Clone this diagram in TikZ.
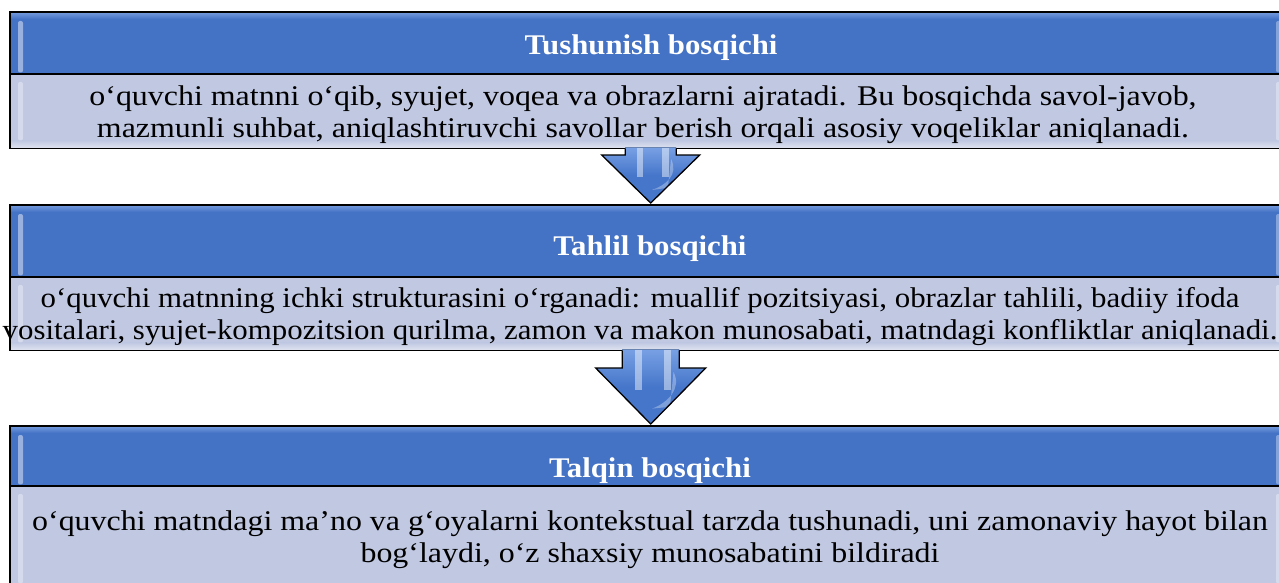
\documentclass[tikz,border=0pt]{standalone}
\usepackage{fontspec}
\setmainfont{Liberation Serif}
\newfontfamily\bodyfont{Liberation Serif}[FakeStretch=1.12]
\newfontfamily\bodyfontn{Liberation Serif}[FakeStretch=1.083]
\newfontfamily\headfont{Liberation Serif}[FakeStretch=1.08]
\usetikzlibrary{calc}
\definecolor{hdr}{RGB}{68,114,196}
\definecolor{hdrlt}{RGB}{110,150,218}
\definecolor{bdy}{RGB}{192,200,226}
\definecolor{arw}{RGB}{70,118,202}
\definecolor{arwlt}{RGB}{120,160,228}
\tikzset{
  hdrbox/.style={draw=black, line width=1.4pt, fill=hdr, inner sep=0pt, anchor=north west, minimum width=1280pt},
  bdybox/.style={draw=black, line width=1.4pt, fill=bdy, inner sep=0pt, anchor=north west, minimum width=1280pt},
  hdrtext/.style={text=white, font=\headfont\fontsize{28.5}{31}\selectfont\bfseries, anchor=base, inner sep=0pt},
  bdytext/.style={text=black, font=\bodyfont\fontsize{28.5}{31.2}\selectfont, align=center, anchor=base, inner sep=0pt},
  bdytextn/.style={bdytext, font=\bodyfontn\fontsize{28.5}{31.5}\selectfont},
  arrowline/.style={draw=black, line width=1.3pt, line join=miter},
}
\newcommand\glossbox[1]{%
  \shade[top color=hdrlt, bottom color=hdr] ($(#1.north west)+(1pt,-1pt)$) rectangle ($(#1.north east)+(-1pt,-7pt)$);
}
\newcommand\edgehl[1]{%
  \fill[white, opacity=0.45, rounded corners=2pt] ($(#1.north west)+(8pt,-9pt)$) rectangle ($(#1.south west)+(13pt,2pt)$);
  \fill[white, opacity=0.35, rounded corners=2pt] ($(#1.north west)+(1266pt,-9pt)$) rectangle ($(#1.south west)+(1271pt,2pt)$);
}
\newcommand\bodyhl[1]{%
  \shade[top color=bdy, bottom color=bdy!55!white] ($(#1.south west)+(1pt,8pt)$) rectangle ($(#1.south east)+(-1pt,1pt)$);
  \fill[white, opacity=0.35, rounded corners=2pt] ($(#1.north west)+(8pt,-9pt)$) rectangle ($(#1.south west)+(13pt,8pt)$);
  \fill[white, opacity=0.35, rounded corners=2pt] ($(#1.north west)+(1266pt,-9pt)$) rectangle ($(#1.south west)+(1271pt,8pt)$);
}
% #1 from node, #2 to node, #3 stem half width, #4 head half width, #5 head length
\newcommand\blkarrow[5]{%
  \fill[top color=arwlt, bottom color=arw, middle color=arw]
    let \p1=(#1.south), \p2=(#2.north) in
    (\x1-#3,\y1+1pt) -- (\x1-#3,\y2+#5) -- (\x1-#4,\y2+#5) -- (\x1,\y2+2pt) -- (\x1+#4,\y2+#5)
    -- (\x1+#3,\y2+#5) -- (\x1+#3,\y1+1pt) -- cycle;
  \fill[white, opacity=0.45]
    let \p1=(#1.south), \p2=(#2.north) in
    (\x1-0.55*#3,\y1) rectangle (\x1-0.3*#3,\y2+#5-22pt);
  \fill[white, opacity=0.45]
    let \p1=(#1.south), \p2=(#2.north) in
    (\x1+0.45*#3,\y1) rectangle (\x1+0.7*#3,\y2+#5-22pt);
  \fill[white, opacity=0.3]
    let \p1=(#1.south), \p2=(#2.north) in
    (\x1+0.8*#3,\y2+#5-4pt) .. controls (\x1+1.1*#3,\y2+#5-20pt) and (\x1+0.6*#3,\y2+0.4*#5) .. (\x1+0.05*#3,\y2+0.3*#5)
    -- (\x1+0.35*#4,\y2+0.35*#4) -- cycle;
  \draw[arrowline]
    let \p1=(#1.south), \p2=(#2.north) in
    (\x1-#3,\y1) -- (\x1-#3,\y2+#5) -- (\x1-#4,\y2+#5) -- (\x1,\y2+2pt) -- (\x1+#4,\y2+#5)
    -- (\x1+#3,\y2+#5) -- (\x1+#3,\y1);
}
\begin{document}
\begin{tikzpicture}[x=1pt,y=-1pt]
\useasboundingbox (0,0) rectangle (1279,583);
\clip (0,0) rectangle (1279,583);
\fill[white] (0,0) rectangle (1279,583);

% ---- box 1
\node[hdrbox, minimum height=61pt] (h1) at (10,12) {};
\node[bdybox, minimum height=74pt] (b1) at (10,73) {};
\glossbox{h1}\edgehl{h1}\bodyhl{b1}
\draw[line width=1.4pt] (h1.north west) rectangle (b1.south east);
\draw[line width=1.4pt] (h1.south west) -- (h1.south east);
\node[hdrtext] (t1) at (651,55) {Tushunish bosqichi};
\node[bdytext] (d1) at (643,137) {o‘quvchi matnni o‘qib, syujet, voqea va obrazlarni ajratadi. Bu bosqichda savol-javob,\\mazmunli suhbat, aniqlashtiruvchi savollar berish orqali asosiy voqeliklar aniqlanadi.};

% ---- box 2
\node[hdrbox, minimum height=71pt] (h2) at (10,205) {};
\node[bdybox, minimum height=73pt] (b2) at (10,276) {};
\glossbox{h2}\edgehl{h2}\bodyhl{b2}
\draw[line width=1.4pt] (h2.north west) rectangle (b2.south east);
\draw[line width=1.4pt] (h2.south west) -- (h2.south east);
\node[hdrtext] (t2) at (650,255) {Tahlil bosqichi};
\node[bdytextn] (d2) at (640,339) {o‘quvchi matnning ichki strukturasini o‘rganadi: muallif pozitsiyasi, obrazlar tahlili, badiiy ifoda\\vositalari, syujet-kompozitsion qurilma, zamon va makon munosabati, matndagi konfliktlar aniqlanadi.};

% ---- box 3
\node[hdrbox, minimum height=59pt] (h3) at (10,426) {};
\node[bdybox, minimum height=105pt] (b3) at (10,485) {};
\glossbox{h3}\edgehl{h3}\bodyhl{b3}
\draw[line width=1.4pt] (h3.north west) rectangle (b3.south east);
\draw[line width=1.4pt] (h3.south west) -- (h3.south east);
\node[hdrtext] (t3) at (650,477) {Talqin bosqichi};
\node[bdytext] (d3) at (650,562) {o‘quvchi matndagi ma’no va g‘oyalarni kontekstual tarzda tushunadi, uni zamonaviy hayot bilan\\bog‘laydi, o‘z shaxsiy munosabatini bildiradi};

% ---- block arrows
\blkarrow{b1}{h2}{25.5pt}{49pt}{50pt}
\blkarrow{b2}{h3}{28.5pt}{55pt}{58pt}
\end{tikzpicture}
\end{document}
